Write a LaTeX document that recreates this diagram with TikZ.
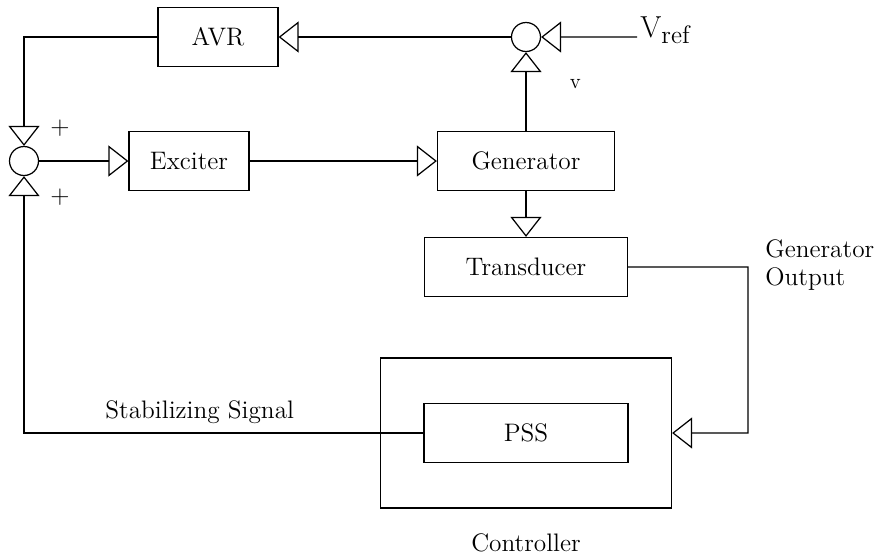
\documentclass[tikz,border=0pt]{standalone}
\usepackage{tikz}
\usetikzlibrary{shapes.geometric, arrows.meta}
\usepackage{amsmath}
\tikzstyle{block} = [rectangle, minimum width=2.4cm, minimum height=1.18cm, text centered, draw=black, line width=0.7pt, font=\Large]
\tikzstyle{summer} = [circle, minimum size=0.58cm, inner sep=0, draw=black, line width=0.7pt]
\tikzstyle{label} = [font=\Large, inner sep=0]
\tikzstyle{arrow} = [line width=0.7pt, -{Triangle[open, length=0.4cm, width=0.62cm, line width=0.7pt]}]
\tikzstyle{wire} = [line width=0.7pt]

\begin{document}
\begin{tikzpicture}[node distance=1.2cm]
\useasboundingbox (0,0) rectangle (17.8,-11.16);

\node (gen) [block, minimum width=3.54cm] at (10.52,-3.22) {Generator};
\node (exc) [block, left of=gen, xshift=-5.54cm] {Exciter};
\draw [arrow] (exc) -- (gen);
\node (sumL) [summer, left of=exc, xshift=-2.1cm] {};
\draw [arrow] (sumL) -- (exc);

\node (sumT) [summer, above of=gen, yshift=1.28cm] {};
\draw [arrow] (gen) -- node [anchor=west, font=\large, xshift=.75cm, yshift=.15cm] {v} (sumT);
\coordinate (vref) at (12.74,-0.74);
\node (vrefText) [anchor=west, font=\LARGE, inner sep=0] at (12.8,-0.6) {V\raisebox{-.45ex}{\Large ref}};
\draw [arrow] (vref) -- (sumT);
\node (avr) [block, left of=sumT, xshift=-4.96cm] {AVR};
\draw [arrow] (sumT) -- (avr);
\draw [arrow] (avr.west) -| (sumL.north);
\node (plusTop) [label] at (1.2,-2.56) {+};

\node (trans) [block, minimum width=4.06cm, below of=gen, yshift=-.92cm] {Transducer};
\draw [arrow] (gen) -- (trans);
\coordinate (bend) at (14.96,-5.34);
\node (genOut) [label, anchor=west, align=left] at (15.3,-5.3) {Generator\\[-2pt]Output};

\node (ctrl) [block, minimum width=5.82cm, minimum height=3cm, below of=trans, yshift=-2.12cm] {};
\node (pss) [block, minimum width=4.08cm] at (ctrl.center) {PSS};
\node (ctrlText) [label, below of=ctrl, yshift=-1cm] {Controller};
\draw [arrow] (trans.east) -- (bend) |- (ctrl.east);

\draw [arrow] (pss.west) -| node [label, pos=.28, yshift=.42cm] {Stabilizing Signal} (sumL.south);
\node (plusBot) [label] at (1.2,-3.94) {+};

\end{tikzpicture}
\end{document}
